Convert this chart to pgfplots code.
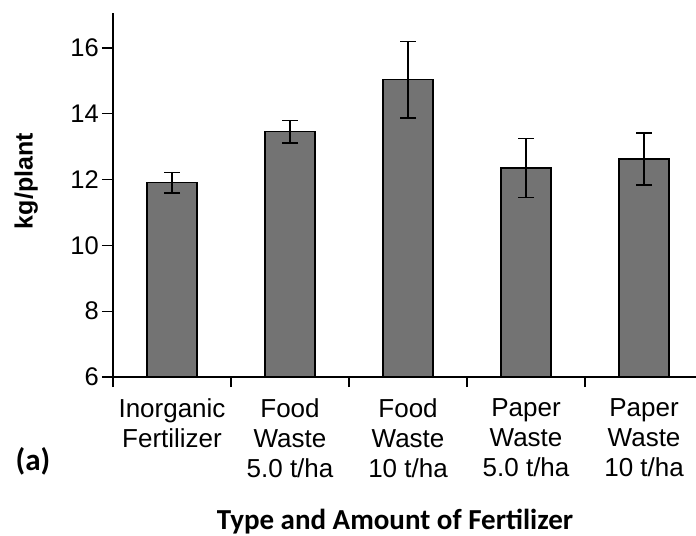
\documentclass[border=0pt]{standalone}
\usepackage{pgfplots}
\pgfplotsset{compat=1.18}
\usepackage{fontspec}
\setmainfont{Liberation Sans}
\newfontfamily\calib{Carlito}

\definecolor{barfill}{RGB}{115,115,115}

\pgfplotstableread{
x   y      err
0   11.90  0.31
1   13.45  0.34
2   15.03  1.16
3   12.35  0.90
4   12.62  0.79
}\yielddata

\begin{document}
\begin{tikzpicture}
\begin{axis}[
    scale only axis,
    width=583bp, height=364bp,
    xmin=-0.5, xmax=4.44,
    ymin=6, ymax=17.06,
    axis x line*=bottom,
    axis y line*=left,
    axis line style={line width=1.5bp},
    tick align=outside,
    tick style={line width=1.3bp, black},
    major tick length=11bp,
    minor tick length=10bp,
    xtick={0,1,2,3,4},
    minor xtick={-0.5,0.5,1.5,2.5,3.5},
    major x tick style={draw=none},
    xticklabels={
        Inorganic\\Fertilizer,
        Food\\Waste\\5.0 t/ha,
        Food\\Waste\\10 t/ha,
        Paper\\Waste\\5.0 t/ha,
        Paper\\Waste\\10 t/ha},
    xticklabel style={align=center, font=\fontsize{26bp}{30bp}\selectfont, inner sep=0pt, anchor=north, yshift=-10bp},
    ytick={6,8,...,16},
    yticklabel={\fontsize{25.5bp}{30bp}\selectfont\pgfmathprintnumber{\tick}},
    yticklabel style={inner sep=0pt, xshift=-3bp},
    /pgf/number format/assume math mode=true,
    ylabel={\bfseries kg/plant},
    ylabel style={font=\fontsize{25bp}{30bp}\selectfont, at={(axis description cs:-0.149,0.538)}, anchor=center, inner sep=0pt},
    xlabel={\calib\bfseries Type and Amount of Fertilizer},
    xlabel style={font=\fontsize{29bp}{33bp}\selectfont, at={(axis description cs:0.4837,0)}, anchor=base, yshift=-152bp, inner sep=0pt},
]
\addplot[ybar, bar width=50bp, fill=barfill, draw=black, line width=1.3bp,
    error bars/.cd, y dir=both, y explicit,
    error bar style={line width=1.5bp, black},
    error mark options={rotate=90, mark size=8bp, line width=1.5bp, black}]
    table[x=x, y=y, y error=err] {\yielddata};
\end{axis}
\node[font=\calib\bfseries\fontsize{31bp}{34bp}\selectfont, inner sep=0pt] at (-80bp,-84bp) {(a)};
\pgfresetboundingbox
\path (-113bp,-159bp) rectangle (583bp,377bp);
\end{tikzpicture}
\end{document}
